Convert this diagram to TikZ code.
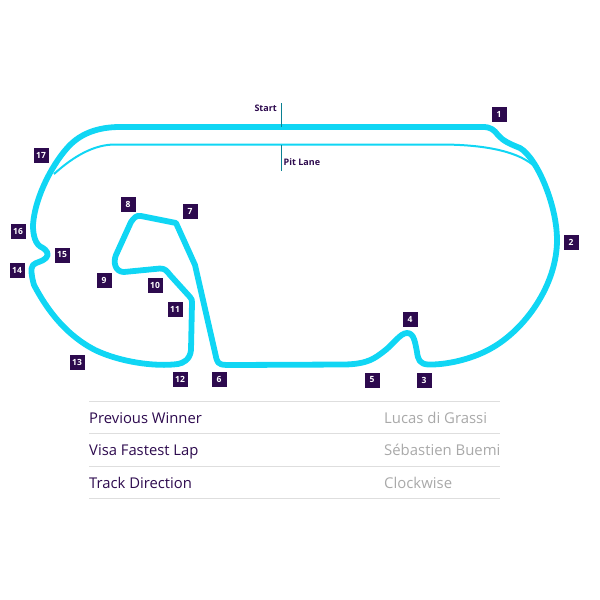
\documentclass[tikz,border=0pt]{standalone}
\usepackage{fontspec}
\setmainfont{Open Sans}
\definecolor{trk}{HTML}{10D6F4}
\definecolor{plum}{HTML}{2D0A4E}
\definecolor{rulec}{HTML}{DEDEDE}
\definecolor{valc}{HTML}{A9A9A9}
\tikzset{
  turn/.style={fill=plum,text=white,minimum size=15pt,inner sep=0pt,font=\fontsize{8.5}{8.5}\selectfont\bfseries},
  track/.style={draw=trk,line width=5.8pt,line join=round},
  pit/.style={draw=trk,line width=2pt},
  tick/.style={draw=trk!60!black,line width=0.9pt},
  tabrule/.style={draw=rulec,line width=1pt},
  keytxt/.style={anchor=base west,inner sep=0pt,text=plum,font=\fontsize{14.8}{14.8}\selectfont},
  valtxt/.style={anchor=base west,inner sep=0pt,text=valc,font=\fontsize{14.9}{14.9}\selectfont},
  small/.style={inner sep=0pt,text=plum,font=\fontsize{9}{9}\selectfont\bfseries}
}
\begin{document}
\begin{tikzpicture}[x=1pt,y=-1pt]
\useasboundingbox (0,0) rectangle (600,600);
% pit lane
\draw[pit] (54,174) .. controls (75,155) and (95,144.5) .. (115,144.5) -- (440,144.5)
  .. controls (480,144.5) and (515,150) .. (533,165);
% track
\draw[track] (120,127) -- (483,127)
 .. controls (491,127) and (494,130) .. (498,135)
 .. controls (503,141) and (510,144) .. (520,148)
 .. controls (537,158) and (557,205) .. (557,240)
 .. controls (557,285) and (525,330) .. (490,349)
 .. controls (470,360) and (445,365) .. (428,364.5)
 .. controls (420,364) and (418,360) .. (417,352)
 .. controls (415,342) and (414,333) .. (407,333)
 .. controls (400,333) and (393,345) .. (383,352)
 .. controls (375,358) and (368,364) .. (345,364.5)
 -- (232,365)
 .. controls (222,365) and (218,365) .. (216.5,359)
 -- (195,265) -- (176,223) -- (141,216)
 .. controls (136,215) and (134,218) .. (131,222)
 -- (116,255)
 .. controls (113,262) and (115,272) .. (124,272)
 -- (160,268.5)
 .. controls (165,268.5) and (167,271) .. (170,275)
 -- (190,297)
 .. controls (192,299) and (192,300) .. (192,303)
 -- (191,350)
 .. controls (190,360) and (183,363) .. (178,364)
 .. controls (155,367) and (120,362) .. (95,350)
 .. controls (60,332) and (42,300) .. (34,285)
 .. controls (32,278) and (30,268) .. (33,265)
 .. controls (36,262) and (42,262) .. (46,258)
 .. controls (50,254) and (46,250) .. (43,248)
 .. controls (35,245) and (33,235) .. (33,225)
 .. controls (35,195) and (55,160) .. (70,145)
 .. controls (85,130) and (105,127) .. (120,127) -- cycle;
% start / pit ticks
\coordinate (st) at (281,103); \coordinate (stb) at (281,127);
\coordinate (pt) at (281,145); \coordinate (ptb) at (281,171);
\draw[tick] (st) -- (stb);
\draw[tick] (pt) -- (ptb);
\node[small,anchor=east] (start) at (277,108.5) {Start};
\node[small,anchor=west] (pitl) at (283.5,162.5) {Pit Lane};
% turns
\foreach \n/\x/\y in {1/499/114,2/571/242,3/424/380,4/410/319,5/372/380,6/219/379,7/190/211,8/128/204,9/104/280,10/155/285,11/175/309,12/180/379,13/77/362,14/17/270,15/62/255,16/18/231,17/41/155}
  \node[turn] (t\n) at (\x,\y) {\n};
% table
\coordinate (r1l) at (89,401); \coordinate (r1r) at (500,401);
\coordinate (r2l) at (89,433); \coordinate (r2r) at (500,433);
\coordinate (r3l) at (89,466); \coordinate (r3r) at (500,466);
\coordinate (r4l) at (89,498.5); \coordinate (r4r) at (500,498.5);
\draw[tabrule] (r1l) -- (r1r);
\draw[tabrule] (r2l) -- (r2r);
\draw[tabrule] (r3l) -- (r3r);
\draw[tabrule] (r4l) -- (r4r);
\node[keytxt] (k1) at (89,423) {Previous Winner};
\node[keytxt] (k2) at (89,455.5) {Visa Fastest Lap};
\node[keytxt] (k3) at (89,488) {Track Direction};
\node[valtxt] (v1) at (384,423) {Lucas di Grassi};
\node[valtxt] (v2) at (384,455.5) {Sébastien Buemi};
\node[valtxt] (v3) at (384,488) {Clockwise};
\end{tikzpicture}
\end{document}
